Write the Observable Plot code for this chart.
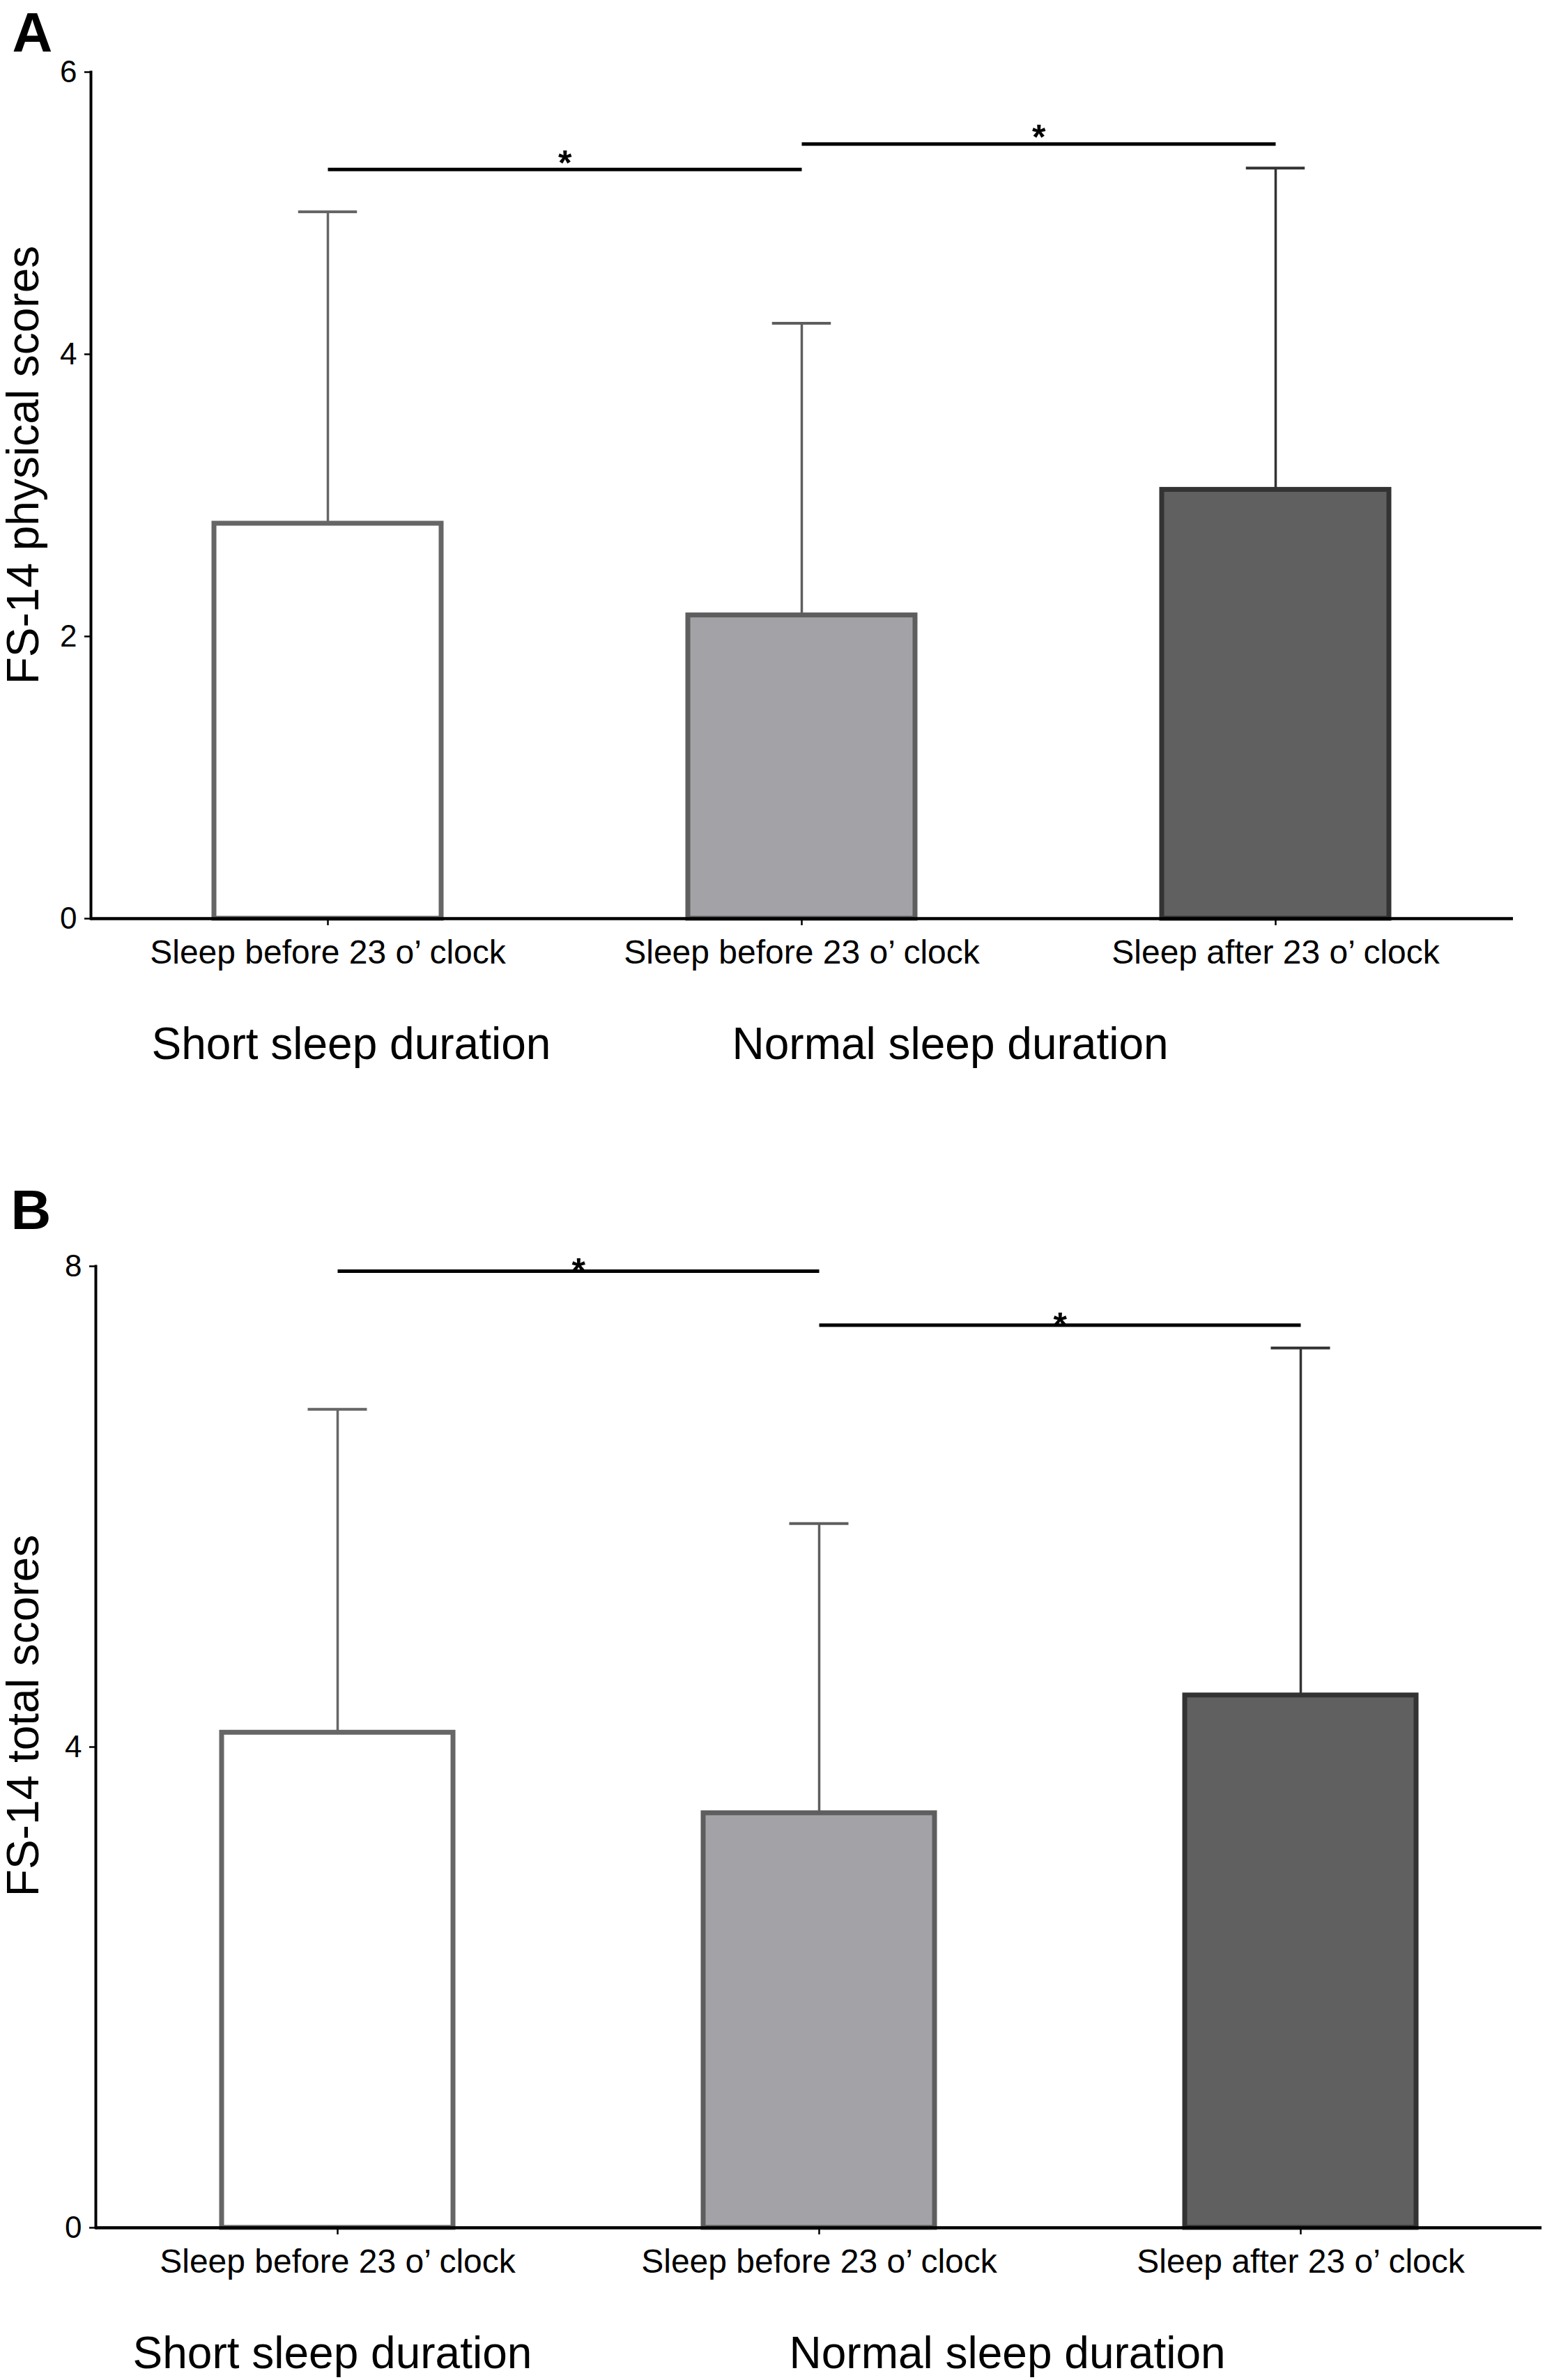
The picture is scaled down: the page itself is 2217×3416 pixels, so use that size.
<!DOCTYPE html>
<html>
<head>
<meta charset="utf-8">
<script src="https://cdn.jsdelivr.net/npm/d3@7"></script>
<script src="https://cdn.jsdelivr.net/npm/@observablehq/plot@0.6"></script>
<style>
  html, body { margin: 0; padding: 0; background: #fff; }
  #chart { width: 2217px; }
  #chart svg { display: block; }
</style>
</head>
<body>
<div id="chart"></div>
<script>
// ---- data ----
const categories = ["short_before", "normal_before", "normal_after"];
const tickLabels = ["Sleep before 23 o’ clock", "Sleep before 23 o’ clock", "Sleep after 23 o’ clock"];
const groupLabels = ["Short sleep duration", "Normal sleep duration"];
const groupAnchors = ["short_before", "normal_before"];

const physicalMean = [2.80, 2.15, 3.04];
const physicalSD = [2.21, 2.07, 2.28];
const physicalSigFrom = ["short_before", "normal_before"];
const physicalSigTo = ["normal_before", "normal_after"];
const physicalSigY = [5.31, 5.49];
const physicalTicks = [0, 2, 4, 6];

const totalMean = [4.12, 3.45, 4.43];
const totalSD = [2.69, 2.41, 2.89];
const totalSigFrom = ["short_before", "normal_before"];
const totalSigTo = ["normal_before", "normal_after"];
const totalSigY = [7.96, 7.51];
const totalTicks = [0, 4, 8];

// ---- styles ----
const barFill = ["#ffffff", "#a3a3a7", "#606060"];
const barStroke = ["#666666", "#5e5e5e", "#333333"];
const FONT = "'Liberation Sans', Arial, Helvetica, sans-serif";
const W = 2217;
const padInner = 0.52, padOuter = 0.26;

function panel(cfg) {
  const rows = categories.map((key, i) => ({key, mean: cfg.mean[i], sd: cfg.sd[i]}));
  const sig = cfg.sigY.map((y, i) => ({from: cfg.sigFrom[i], to: cfg.sigTo[i], y}));
  const step = (W - cfg.ml - cfg.mr) / (categories.length - padInner + 2 * padOuter);
  const bw = step * (1 - padInner);
  const capInset = (bw - 85) / 2;
  const labelOf = k => tickLabels[categories.indexOf(k)];

  const marks = [
    Plot.barY(rows, {x: "key", y: "mean", fill: (d, i) => barFill[i], stroke: (d, i) => barStroke[i], strokeWidth: 7}),
    Plot.ruleX(rows, {x: "key", y1: "mean", y2: d => d.mean + d.sd, stroke: (d, i) => barStroke[i], strokeWidth: 3.5}),
    Plot.tickY(rows, {x: "key", y: d => d.mean + d.sd, stroke: (d, i) => barStroke[i], strokeWidth: 4, insetLeft: capInset, insetRight: capInset}),
    Plot.link(sig, {x1: "from", x2: "to", y1: "y", y2: "y", stroke: "black", strokeWidth: 5}),
    Plot.text(sig, {x: "from", y: "y", text: () => "*", dx: step / 2, dy: cfg.starDy, lineAnchor: "top", fontSize: 50, fontWeight: "bold", fill: "black"}),
    Plot.ruleY([0], {stroke: "black", strokeWidth: 4.5}),
    Plot.frame({anchor: "left", stroke: "black", strokeWidth: 4}),
    Plot.axisY({ticks: cfg.ticks, tickFormat: d3.format("d"), tickSize: 9, tickPadding: 11, fontSize: 44, label: null, strokeWidth: 2.5}),
    Plot.axisX({tickSize: 10, tickPadding: 20, fontSize: 48, label: null, tickFormat: labelOf, strokeWidth: 2.5}),
    Plot.text([cfg.yLabel], {text: d => d, frameAnchor: "left", textAnchor: "middle", rotate: -90, dx: cfg.yLabelDx, dy: cfg.yLabelDy, fontSize: 64, fill: "black"}),
    Plot.text([cfg.letter], {text: d => d, frameAnchor: "top-left", textAnchor: "start", lineAnchor: "top", dx: cfg.letterDx, dy: cfg.letterDy, fontSize: 80, fontWeight: "bold", fill: "black"}),
    ...groupLabels.map((g, i) =>
      Plot.text([g], {x: () => groupAnchors[i], text: d => d, frameAnchor: "bottom", textAnchor: "start", lineAnchor: "top", dx: cfg.groupDx[i], dy: 156, fontSize: 64, fill: "black"}))
  ];

  return Plot.plot({
    width: W,
    height: cfg.height,
    marginTop: cfg.mt,
    marginBottom: cfg.mb,
    marginLeft: cfg.ml,
    marginRight: cfg.mr,
    style: {fontFamily: FONT, fontSize: "44px", background: "white", color: "black", overflow: "visible"},
    x: {domain: categories, paddingInner: padInner, paddingOuter: padOuter},
    y: {domain: [0, cfg.ticks[cfg.ticks.length - 1]]},
    color: {type: "identity"},
    marks
  });
}

const chart = document.getElementById("chart");
chart.append(panel({
  letter: "A", yLabel: "FS-14 physical scores",
  mean: physicalMean, sd: physicalSD, sigFrom: physicalSigFrom, sigTo: physicalSigTo, sigY: physicalSigY, ticks: physicalTicks,
  height: 1600, mt: 103, mb: 282, ml: 130, mr: 46,
  letterDx: -113, letterDy: -86, yLabelDx: -96, yLabelDy: -43.5, groupDx: [-253, -100], starDy: -28
}));
chart.append(panel({
  letter: "B", yLabel: "FS-14 total scores",
  mean: totalMean, sd: totalSD, sigFrom: totalSigFrom, sigTo: totalSigTo, sigY: totalSigY, ticks: totalTicks,
  height: 1816, mt: 217, mb: 219, ml: 137, mr: 5,
  letterDx: -122, letterDy: -110, yLabelDx: -103, yLabelDy: -45, groupDx: [-294, -43], starDy: -19
}));
</script>
</body>
</html>
